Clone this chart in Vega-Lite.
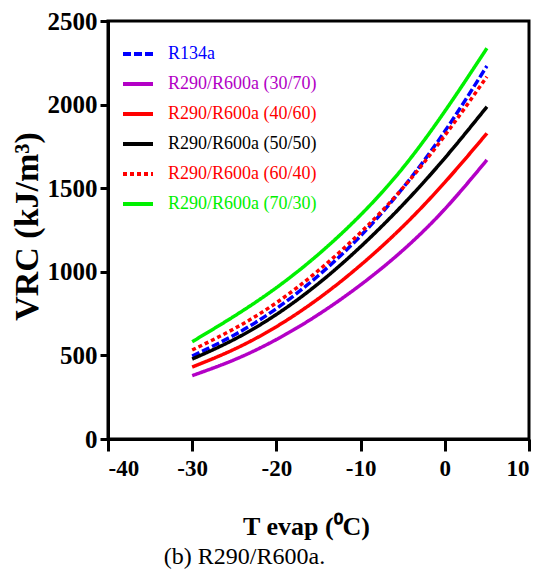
{
  "$schema": "https://vega.github.io/schema/vega-lite/v6.json",
  "width": 421,
  "height": 418,
  "autosize": {"type": "none"},
  "padding": {"left": 108, "top": 21, "right": 14, "bottom": 138},
  "background": "white",
  "title": {
    "text": "(b) R290/R600a.",
    "orient": "bottom",
    "anchor": "middle",
    "dx": -74,
    "offset": 6,
    "font": "Liberation Serif",
    "fontSize": 24,
    "fontWeight": "normal",
    "color": "black"
  },
  "config": {
    "view": {"stroke": "black", "strokeWidth": 3},
    "axis": {
      "grid": false,
      "domainColor": "black",
      "domainWidth": 3,
      "tickColor": "black",
      "tickWidth": 3,
      "labelFont": "Liberation Serif, Times New Roman, serif",
      "labelFontWeight": "bold",
      "labelColor": "black",
      "titleFont": "Liberation Serif",
      "titleFontWeight": "bold",
      "titleColor": "black"
    },
    "legend": {"labelFont": "Liberation Serif, Times New Roman, serif"}
  },
  "data": {
    "values": [
      {"T": -30, "VRC": 496, "series": "R134a"},
      {"T": -25, "VRC": 622, "series": "R134a"},
      {"T": -20, "VRC": 780, "series": "R134a"},
      {"T": -15, "VRC": 978, "series": "R134a"},
      {"T": -10, "VRC": 1215, "series": "R134a"},
      {"T": -5, "VRC": 1500, "series": "R134a"},
      {"T": 0, "VRC": 1840, "series": "R134a"},
      {"T": 5, "VRC": 2231, "series": "R134a"},
      {"T": -30, "VRC": 379, "series": "R290/R600a (30/70)"},
      {"T": -25, "VRC": 474, "series": "R290/R600a (30/70)"},
      {"T": -20, "VRC": 595, "series": "R290/R600a (30/70)"},
      {"T": -15, "VRC": 745, "series": "R290/R600a (30/70)"},
      {"T": -10, "VRC": 922, "series": "R290/R600a (30/70)"},
      {"T": -5, "VRC": 1128, "series": "R290/R600a (30/70)"},
      {"T": 0, "VRC": 1375, "series": "R290/R600a (30/70)"},
      {"T": 5, "VRC": 1669, "series": "R290/R600a (30/70)"},
      {"T": -30, "VRC": 430, "series": "R290/R600a (40/60)"},
      {"T": -25, "VRC": 537, "series": "R290/R600a (40/60)"},
      {"T": -20, "VRC": 672, "series": "R290/R600a (40/60)"},
      {"T": -15, "VRC": 840, "series": "R290/R600a (40/60)"},
      {"T": -10, "VRC": 1040, "series": "R290/R600a (40/60)"},
      {"T": -5, "VRC": 1270, "series": "R290/R600a (40/60)"},
      {"T": 0, "VRC": 1535, "series": "R290/R600a (40/60)"},
      {"T": 5, "VRC": 1828, "series": "R290/R600a (40/60)"},
      {"T": -30, "VRC": 478, "series": "R290/R600a (50/50)"},
      {"T": -25, "VRC": 596, "series": "R290/R600a (50/50)"},
      {"T": -20, "VRC": 745, "series": "R290/R600a (50/50)"},
      {"T": -15, "VRC": 930, "series": "R290/R600a (50/50)"},
      {"T": -10, "VRC": 1150, "series": "R290/R600a (50/50)"},
      {"T": -5, "VRC": 1400, "series": "R290/R600a (50/50)"},
      {"T": 0, "VRC": 1680, "series": "R290/R600a (50/50)"},
      {"T": 5, "VRC": 1987, "series": "R290/R600a (50/50)"},
      {"T": -30, "VRC": 532, "series": "R290/R600a (60/40)"},
      {"T": -25, "VRC": 660, "series": "R290/R600a (60/40)"},
      {"T": -20, "VRC": 815, "series": "R290/R600a (60/40)"},
      {"T": -15, "VRC": 1008, "series": "R290/R600a (60/40)"},
      {"T": -10, "VRC": 1235, "series": "R290/R600a (60/40)"},
      {"T": -5, "VRC": 1500, "series": "R290/R600a (60/40)"},
      {"T": 0, "VRC": 1815, "series": "R290/R600a (60/40)"},
      {"T": 5, "VRC": 2167, "series": "R290/R600a (60/40)"},
      {"T": -30, "VRC": 582, "series": "R290/R600a (70/30)"},
      {"T": -25, "VRC": 735, "series": "R290/R600a (70/30)"},
      {"T": -20, "VRC": 905, "series": "R290/R600a (70/30)"},
      {"T": -15, "VRC": 1105, "series": "R290/R600a (70/30)"},
      {"T": -10, "VRC": 1340, "series": "R290/R600a (70/30)"},
      {"T": -5, "VRC": 1620, "series": "R290/R600a (70/30)"},
      {"T": 0, "VRC": 1960, "series": "R290/R600a (70/30)"},
      {"T": 5, "VRC": 2337, "series": "R290/R600a (70/30)"}
    ]
  },
  "mark": {"type": "line", "strokeWidth": 3.5, "interpolate": "natural", "strokeCap": "butt"},
  "encoding": {
    "x": {
      "field": "T",
      "type": "quantitative",
      "scale": {"domain": [-40, 10], "nice": false, "zero": false},
      "axis": {
        "values": [-40, -30, -20, -10, 0, 10],
        "labelExpr": "'' + datum.value",
        "title": "T evap (⁰C)",
        "labelFont": "Liberation Serif, Times New Roman, serif",
        "labelFontSize": 23,
        "tickSize": 12,
        "labelPadding": 6,
        "titleFont": "Liberation Serif",
        "titleFontSize": 26,
        "titleX": 198,
        "titleY": 95,
        "titleAlign": "center",
        "titleBaseline": "alphabetic"
      }
    },
    "y": {
      "field": "VRC",
      "type": "quantitative",
      "scale": {"domain": [0, 2500], "nice": false},
      "axis": {
        "values": [0, 500, 1000, 1500, 2000, 2500],
        "labelExpr": "'' + datum.value",
        "title": "VRC (kJ/m³)",
        "labelFont": "Liberation Serif, Times New Roman, serif",
        "labelFontSize": 25,
        "tickSize": 8,
        "labelPadding": 3,
        "titleFont": "Liberation Serif",
        "titleFontSize": 34,
        "titleAngle": -90,
        "titleX": -81,
        "titleY": 205,
        "titleAlign": "center",
        "titleBaseline": "middle"
      }
    },
    "color": {
      "field": "series",
      "type": "nominal",
      "scale": {
        "domain": ["R134a", "R290/R600a (30/70)", "R290/R600a (40/60)", "R290/R600a (50/50)", "R290/R600a (60/40)", "R290/R600a (70/30)"],
        "range": ["#0000ff", "#b300c6", "#ff0000", "#000000", "#ff0000", "#00f000"]
      },
      "legend": {
        "title": null,
        "orient": "none",
        "legendX": 13,
        "legendY": 16,
        "padding": 0,
        "symbolType": "stroke",
        "symbolSize": 900,
        "symbolStrokeWidth": 4,
        "rowPadding": 4,
        "labelOffset": 13,
        "labelFont": "Liberation Serif, Times New Roman, serif",
        "labelFontSize": 18,
        "labelLimit": 300,
        "encode": {"labels": {"update": {"fill": {"scale": "color", "field": "value"}}}}
      }
    },
    "strokeDash": {
      "field": "series",
      "type": "nominal",
      "scale": {
        "domain": ["R134a", "R290/R600a (30/70)", "R290/R600a (40/60)", "R290/R600a (50/50)", "R290/R600a (60/40)", "R290/R600a (70/30)"],
        "range": [[8, 3], [1, 0], [1, 0], [1, 0], [4, 3], [1, 0]]
      },
      "legend": null
    }
  }
}
